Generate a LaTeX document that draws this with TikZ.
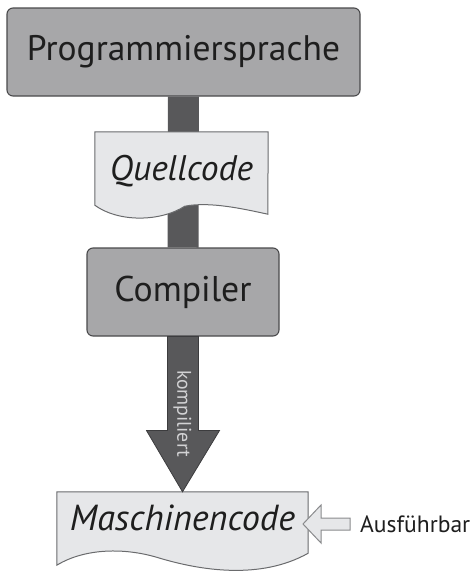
\documentclass[tikz,border=0pt]{standalone}
\usepackage{fontspec}
\setmainfont{PT Sans}
\usetikzlibrary{calc,backgrounds}
\definecolor{boxgray}{HTML}{A7A7A9}
\definecolor{boxedge}{HTML}{4A4A4C}
\definecolor{bargray}{HTML}{58585A}
\definecolor{baredge}{HTML}{3C3C3E}
\definecolor{docfill}{HTML}{E6E7E9}
\definecolor{docedge}{HTML}{6A6B6D}
\definecolor{hollowedge}{HTML}{8A8B8D}
\definecolor{labelgray}{HTML}{D2D2D4}
\definecolor{txt}{HTML}{1E1E1E}
\tikzset{
  box/.style={draw=boxedge, fill=boxgray, rounded corners=6pt, line width=1.1pt, inner sep=0pt, text=txt},
  docarea/.style={rectangle, inner sep=0pt},
  docshape/.style={draw=docedge, fill=docfill, line width=1pt, line join=miter},
  doctext/.style={inner sep=0pt, text=txt},
  barline/.style={draw=bargray, line width=31pt},
  bigarrow/.style={fill=bargray, draw=baredge, line width=0.8pt, line join=miter},
  hollow/.style={fill=docfill, draw=hollowedge, line width=1pt, line join=miter},
}
\begin{document}
\begin{tikzpicture}[x=1pt,y=-1pt]
\useasboundingbox (0,0) rectangle (471,571);
% boxes
\node[box, minimum width=353pt, minimum height=88pt] (p) at (183.5,52) {\resizebox{313pt}{!}{Programmiersprache}};
\node[box, minimum width=192pt, minimum height=88pt] (c) at (183,292) {\resizebox{137pt}{!}{Compiler}};
% document areas
\node[docarea, minimum width=173pt, minimum height=73pt] (q) at (181.5,168.5) {};
\node[doctext] (qt) at (181.5,171) {\resizebox{143pt}{!}{\itshape Quellcode}};
\node[docarea, minimum width=251pt, minimum height=73pt] (m) at (182.5,528.5) {};
\node[doctext] (mt) at (182.5,518) {\resizebox{225pt}{!}{\itshape Maschinencode}};
% executable label
\node[doctext, anchor=west] (a) at (360,524) {\resizebox{110pt}{!}{Ausführbar}};
\begin{scope}[on background layer]
  % shaft from Programmiersprache to Compiler
  \draw[barline] (p.south) -- (c.north);
  % Quellcode document
  \path[docshape] (q.north west) -- (q.north east) -- ($(q.south west)+(173,9)$)
     .. controls ($(q.south west)+(150,4)$) and ($(q.south west)+(115,-4)$) .. ($(q.south west)+(90,1)$)
     .. controls ($(q.south west)+(65,17)$) and ($(q.south west)+(23,17)$) .. (q.south west) -- cycle;
  % Maschinencode document
  \path[docshape] (m.north west) -- (m.north east) -- ($(m.south east)+(0,-12)$)
     .. controls ($(m.south east)+(-48,15)$) and ($(m.south east)+(-108,5)$) .. ($(m.south west)+(103,-7)$)
     .. controls ($(m.south west)+(68,-18)$) and ($(m.south west)+(28,-17)$) .. (m.south west) -- cycle;
\end{scope}
% compiler arrow
\path[bigarrow] ($(c.south)+(-15.5,0)$) -- ($(c.south)+(-15.5,94)$) -- ($(c.south)+(-36.5,94)$)
   -- (m.north) -- ($(c.south)+(36.5,94)$) -- ($(c.south)+(15.5,94)$) -- ($(c.south)+(15.5,0)$) -- cycle;
\node[inner sep=0pt, text=labelgray, rotate=-90] (k) at (182.5,413.5) {\resizebox{87pt}{!}{kompiliert}};
% hollow arrow
\path[hollow] ($(a.west)+(-57,0)$) -- ($(a.west)+(-39,-19)$) -- ($(a.west)+(-39,-6)$) -- ($(a.west)+(-10,-6)$)
   -- ($(a.west)+(-10,6)$) -- ($(a.west)+(-39,6)$) -- ($(a.west)+(-39,19)$) -- cycle;
\end{tikzpicture}
\end{document}
